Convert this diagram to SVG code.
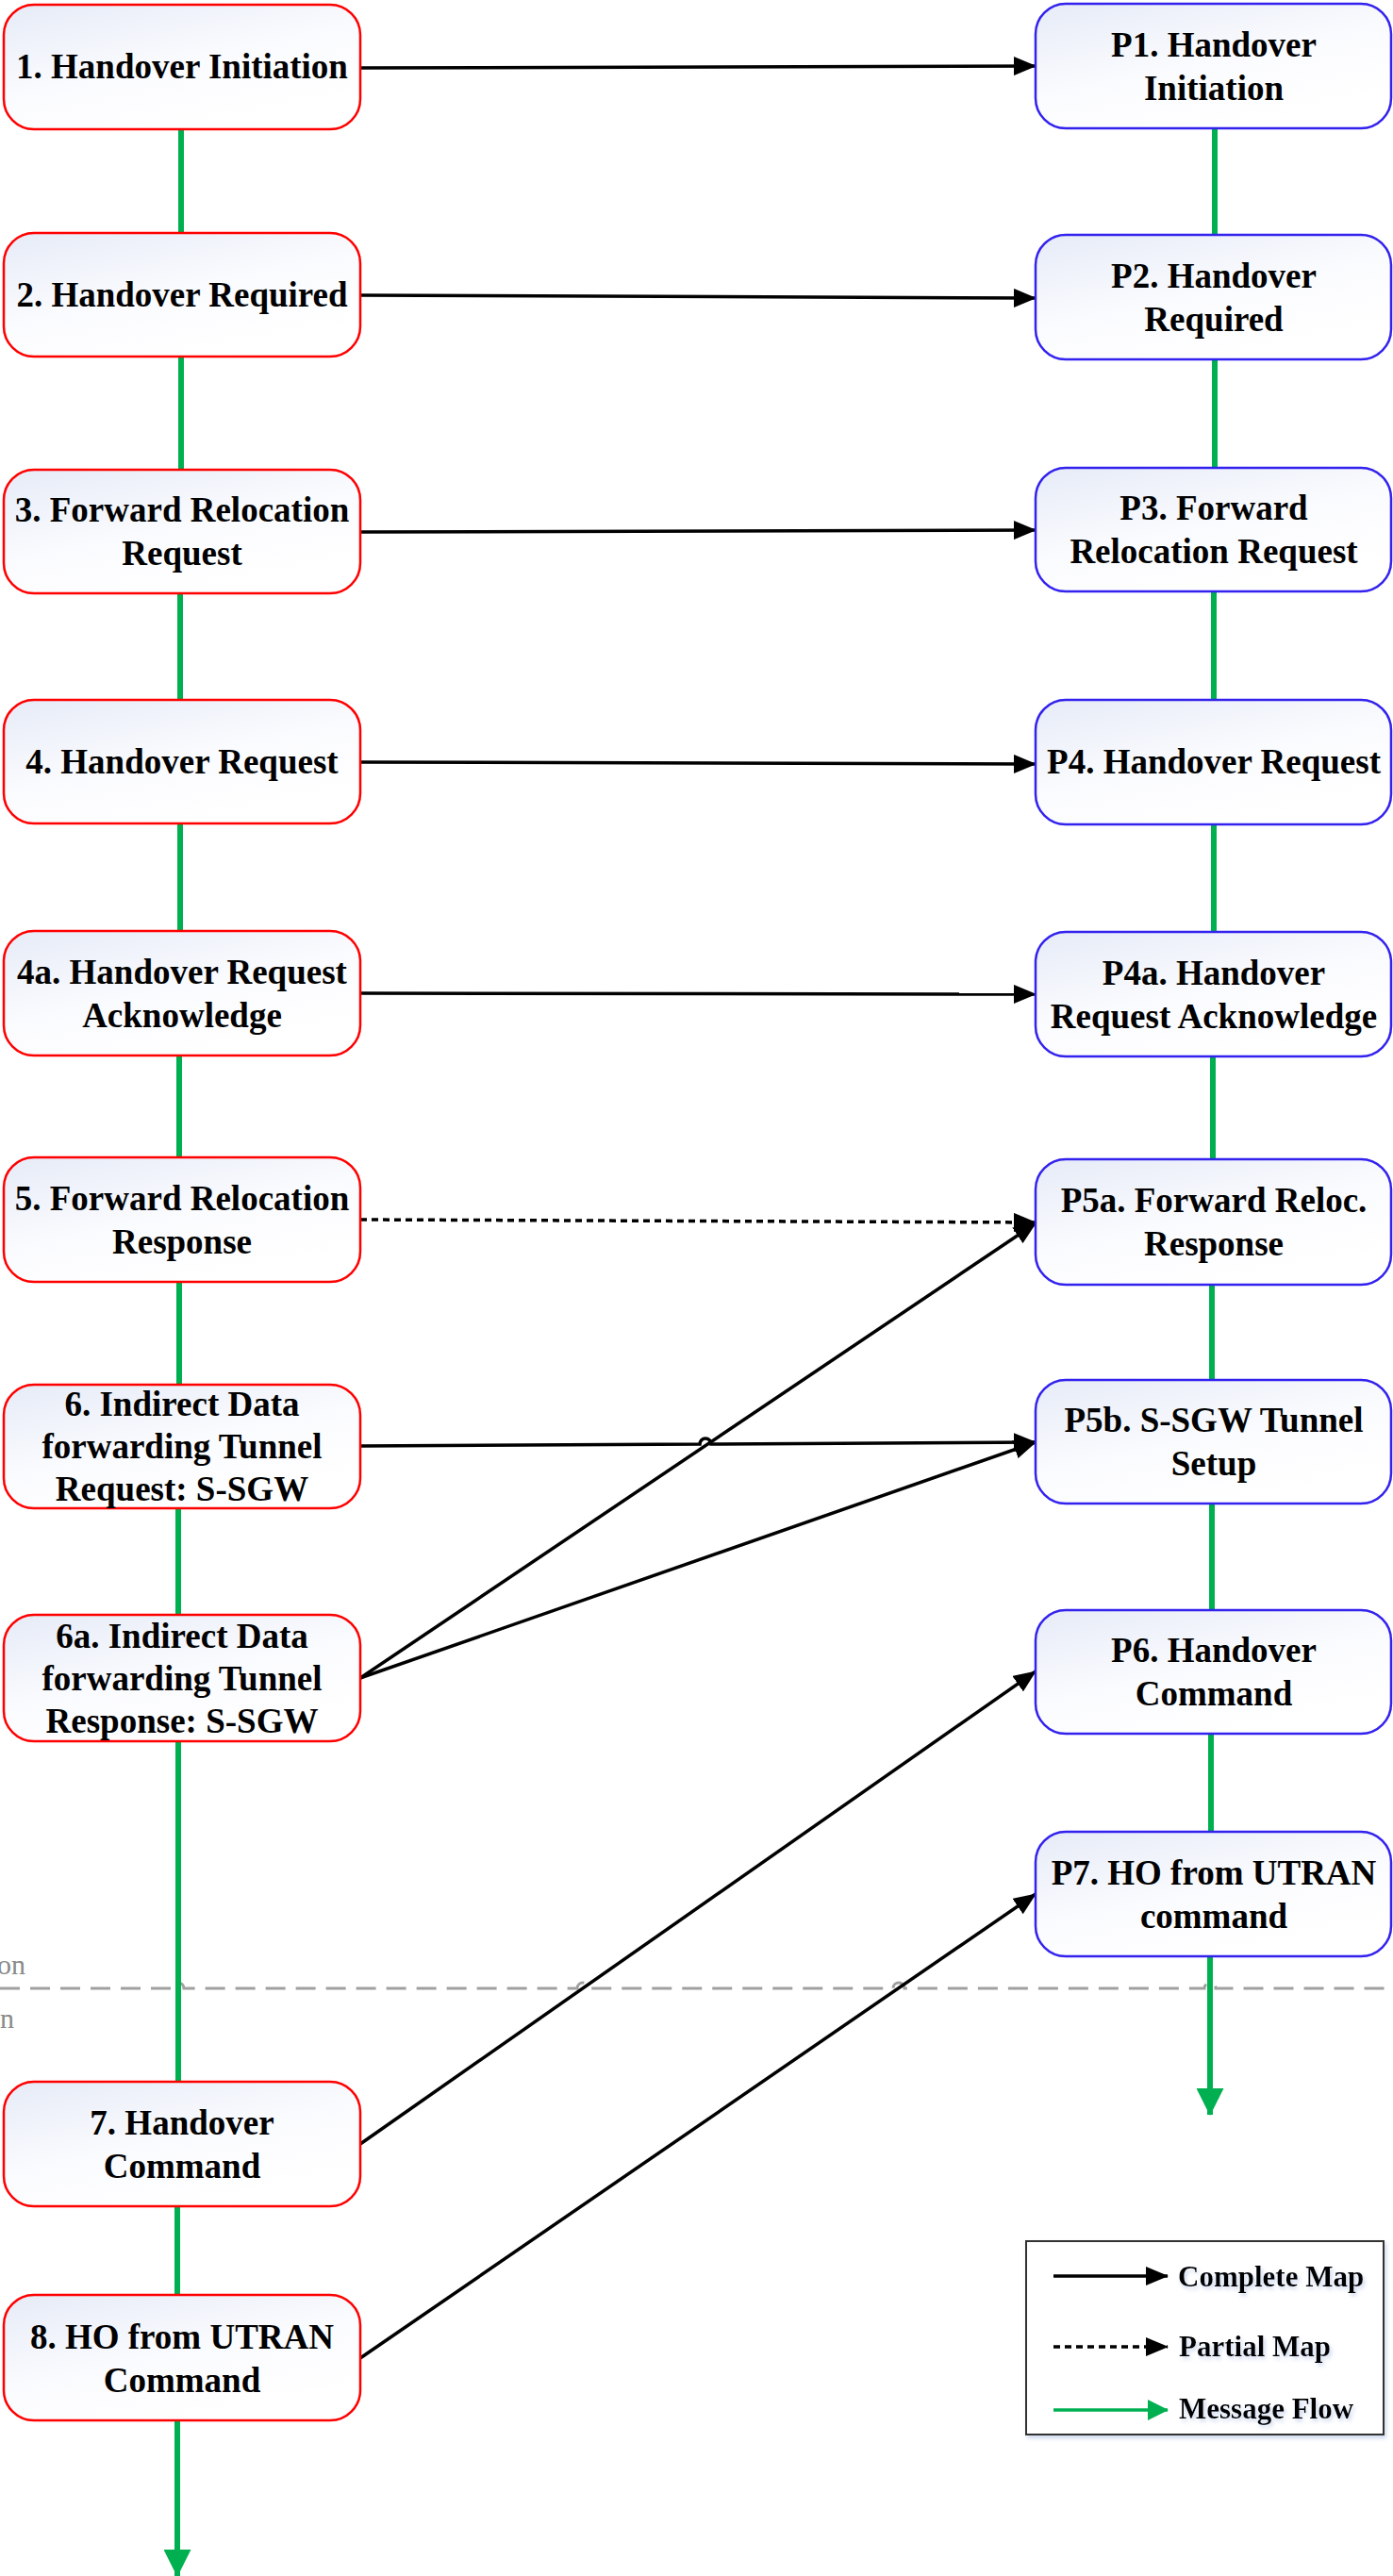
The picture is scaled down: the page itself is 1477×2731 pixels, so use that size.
<svg xmlns="http://www.w3.org/2000/svg" width="1477" height="2731" viewBox="0 0 1477 2731">
<style>
.box{stroke-width:2.5}
.l{stroke:#ff0000;fill:url(#g)}
.r{stroke:#3322ee;fill:url(#g)}
.t{font-family:"Liberation Serif","Times New Roman",serif;font-weight:bold;font-size:37px;fill:#000;text-anchor:middle}
.lt{font-family:"Liberation Serif","Times New Roman",serif;font-weight:bold;font-size:31px;fill:#000}
.flow{stroke:#00b050;stroke-width:6;fill:none}
.map{stroke:#000;stroke-width:3.5;fill:none;marker-end:url(#ah)}
.part{stroke-dasharray:7 5}
.sep{stroke:#a0a0a0;stroke-width:3;fill:none;stroke-dasharray:21 11}
.phase{font-family:"Liberation Serif","Times New Roman",serif;font-size:30px;fill:#8a8a8a;text-anchor:end}
</style>
<defs>
<linearGradient id="g" gradientUnits="objectBoundingBox" x1="0" y1="0" x2="0.6" y2="1">
<stop offset="0" stop-color="#e6ebf7"/>
<stop offset="0.55" stop-color="#fafbfe"/>
<stop offset="1" stop-color="#ffffff"/>
</linearGradient>
<marker id="ah" markerUnits="userSpaceOnUse" viewBox="0 0 24 20" markerWidth="24" markerHeight="20" refX="23" refY="10" orient="auto">
<path d="M0,0 L24,10 L0,20 z" fill="#000"/>
</marker>
<marker id="gh" markerUnits="userSpaceOnUse" viewBox="0 0 29 29" markerWidth="29" markerHeight="29" refX="28" refY="14.5" orient="auto">
<path d="M0,0 L29,14.5 L0,29 z" fill="#00b050"/>
</marker>
<marker id="gl" markerUnits="userSpaceOnUse" viewBox="0 0 22 22" markerWidth="22" markerHeight="22" refX="21" refY="11" orient="auto">
<path d="M0,0 L22,11 L0,22 z" fill="#00b050"/>
</marker>
<filter id="sh" x="-10%" y="-10%" width="130%" height="140%">
<feDropShadow dx="2" dy="3" stdDeviation="2" flood-color="#b8c8e6" flood-opacity="0.7"/>
</filter>
</defs>

<g id="phase-separator">
<path class="sep" d="M0,2108 H183 a6,6 0 0 1 12,0 H612 a6,6 0 0 1 12,0 H947 a6,6 0 0 1 12,0 H1277 a6,6 0 0 1 12,0 H1477"/>
<text class="phase" x="27" y="2093">on</text>
<text class="phase" x="15" y="2150">n</text>
</g>

<g id="connectors">
<line class="flow" x1="192" y1="137" x2="192" y2="247"/>
<line class="flow" x1="192" y1="378" x2="192" y2="498"/>
<line class="flow" x1="191" y1="629" x2="191" y2="742"/>
<line class="flow" x1="191" y1="873" x2="191" y2="987"/>
<line class="flow" x1="190" y1="1119" x2="190" y2="1227"/>
<line class="flow" x1="190" y1="1359" x2="190" y2="1468"/>
<line class="flow" x1="189" y1="1599" x2="189" y2="1712"/>
<line class="flow" x1="189" y1="1846" x2="189" y2="2207"/>
<line class="flow" x1="188" y1="2339" x2="188" y2="2433"/>
<line class="flow" x1="188" y1="2566" x2="188" y2="2731" style="marker-end:url(#gh)"/>

<line class="flow" x1="1288" y1="136" x2="1288" y2="249"/>
<line class="flow" x1="1288" y1="381" x2="1288" y2="496"/>
<line class="flow" x1="1287" y1="627" x2="1287" y2="742"/>
<line class="flow" x1="1287" y1="874" x2="1287" y2="988"/>
<line class="flow" x1="1286" y1="1120" x2="1286" y2="1229"/>
<line class="flow" x1="1285" y1="1362" x2="1285" y2="1463"/>
<line class="flow" x1="1285" y1="1594" x2="1285" y2="1707"/>
<line class="flow" x1="1284" y1="1838" x2="1284" y2="1942"/>
<line class="flow" x1="1283" y1="2074" x2="1283" y2="2242" style="marker-end:url(#gh)"/>

<path class="map" d="M382,72 L1098,70"/>
<path class="map" d="M382,313 L1098,316"/>
<path class="map" d="M382,564 L1098,562"/>
<path class="map" d="M382,808 L1098,810"/>
<path class="map" d="M382,1053 L1098,1054"/>
<path class="map part" d="M382,1293 L1098,1296"/>
<path class="map" d="M382,1533 L742,1531 A6,6 0 0 1 754,1531 L1098,1529"/>
<path class="map" d="M382,1779 L1098,1297"/>
<path class="map" d="M382,1779 L1098,1529"/>
<path class="map" d="M382,2273 L1098,1772"/>
<path class="map" d="M382,2500 L1098,2008"/>
</g>

<g id="n1"><rect class="box l" x="4" y="5" width="378" height="132" rx="32"/><text class="t" x="193" y="83">1. Handover Initiation</text></g>
<g id="n2"><rect class="box l" x="4" y="247" width="378" height="131" rx="32"/><text class="t" x="193" y="325">2. Handover Required</text></g>
<g id="n3"><rect class="box l" x="4" y="498" width="378" height="131" rx="32"/><text class="t" x="193" y="553">3. Forward Relocation</text><text class="t" x="193" y="599">Request</text></g>
<g id="n4"><rect class="box l" x="4" y="742" width="378" height="131" rx="32"/><text class="t" x="193" y="820">4. Handover Request</text></g>
<g id="n4a"><rect class="box l" x="4" y="987" width="378" height="132" rx="32"/><text class="t" x="193" y="1043">4a. Handover Request</text><text class="t" x="193" y="1089">Acknowledge</text></g>
<g id="n5"><rect class="box l" x="4" y="1227" width="378" height="132" rx="32"/><text class="t" x="193" y="1283">5. Forward Relocation</text><text class="t" x="193" y="1329">Response</text></g>
<g id="n6"><rect class="box l" x="4" y="1468" width="378" height="131" rx="32"/><text class="t" x="193" y="1501">6. Indirect Data</text><text class="t" x="193" y="1546">forwarding Tunnel</text><text class="t" x="193" y="1591">Request: S-SGW</text></g>
<g id="n6a"><rect class="box l" x="4" y="1712" width="378" height="134" rx="32"/><text class="t" x="193" y="1747">6a. Indirect Data</text><text class="t" x="193" y="1792">forwarding Tunnel</text><text class="t" x="193" y="1837">Response: S-SGW</text></g>
<g id="n7"><rect class="box l" x="4" y="2207" width="378" height="132" rx="32"/><text class="t" x="193" y="2263">7. Handover</text><text class="t" x="193" y="2309">Command</text></g>
<g id="n8"><rect class="box l" x="4" y="2433" width="378" height="133" rx="32"/><text class="t" x="193" y="2490">8. HO from UTRAN</text><text class="t" x="193" y="2536">Command</text></g>

<g id="p1"><rect class="box r" x="1098" y="4" width="377" height="132" rx="32"/><text class="t" x="1287" y="60">P1. Handover</text><text class="t" x="1287" y="106">Initiation</text></g>
<g id="p2"><rect class="box r" x="1098" y="249" width="377" height="132" rx="32"/><text class="t" x="1287" y="305">P2. Handover</text><text class="t" x="1287" y="351">Required</text></g>
<g id="p3"><rect class="box r" x="1098" y="496" width="377" height="131" rx="32"/><text class="t" x="1287" y="551">P3. Forward</text><text class="t" x="1287" y="597">Relocation Request</text></g>
<g id="p4"><rect class="box r" x="1098" y="742" width="377" height="132" rx="32"/><text class="t" x="1287" y="820">P4. Handover Request</text></g>
<g id="p4a"><rect class="box r" x="1098" y="988" width="377" height="132" rx="32"/><text class="t" x="1287" y="1044">P4a. Handover</text><text class="t" x="1287" y="1090">Request Acknowledge</text></g>
<g id="p5a"><rect class="box r" x="1098" y="1229" width="377" height="133" rx="32"/><text class="t" x="1287" y="1285">P5a. Forward Reloc.</text><text class="t" x="1287" y="1331">Response</text></g>
<g id="p5b"><rect class="box r" x="1098" y="1463" width="377" height="131" rx="32"/><text class="t" x="1287" y="1518">P5b. S-SGW Tunnel</text><text class="t" x="1287" y="1564">Setup</text></g>
<g id="p6"><rect class="box r" x="1098" y="1707" width="377" height="131" rx="32"/><text class="t" x="1287" y="1762">P6. Handover</text><text class="t" x="1287" y="1808">Command</text></g>
<g id="p7"><rect class="box r" x="1098" y="1942" width="377" height="132" rx="32"/><text class="t" x="1287" y="1998">P7. HO from UTRAN</text><text class="t" x="1287" y="2044">command</text></g>

<g id="legend">
<rect x="1088" y="2376" width="379" height="205" fill="#fff" stroke="#333" stroke-width="2" filter="url(#sh)"/>
<line x1="1117" y1="2413" x2="1238" y2="2413" stroke="#000" stroke-width="3.5" marker-end="url(#ah)"/>
<line x1="1117" y1="2488" x2="1238" y2="2488" stroke="#000" stroke-width="3.5" stroke-dasharray="7 5" marker-end="url(#ah)"/>
<line x1="1117" y1="2555" x2="1238" y2="2555" stroke="#00b050" stroke-width="3.5" marker-end="url(#gl)"/>
<text class="lt" x="1249" y="2424" filter="url(#sh)">Complete Map</text>
<text class="lt" x="1250" y="2498" filter="url(#sh)">Partial Map</text>
<text class="lt" x="1250" y="2564" filter="url(#sh)">Message Flow</text>
</g>
</svg>
